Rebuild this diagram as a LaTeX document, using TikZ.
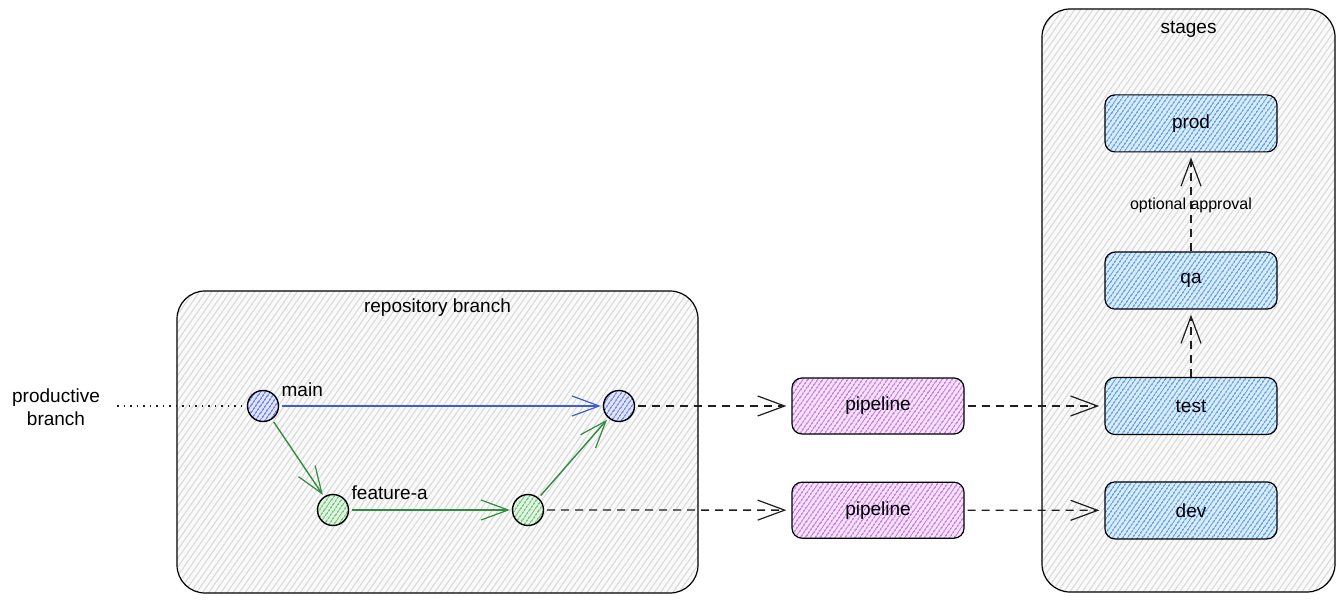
\documentclass[tikz,border=0pt]{standalone}
\usepackage{fontspec}
\setmainfont{Liberation Sans}
\usetikzlibrary{positioning,arrows.meta,patterns.meta}
\definecolor{rbgrouphatch}{RGB}{218,218,218}
\definecolor{rbstagehatch}{RGB}{96,166,234}
\definecolor{rbpipehatch}{RGB}{204,126,232}
\definecolor{rbmainhatch}{RGB}{118,138,236}
\definecolor{rbfeathatch}{RGB}{120,200,126}
\definecolor{rbmainline}{RGB}{62,92,212}
\definecolor{rbfeatline}{RGB}{48,140,62}
\definecolor{rbdash}{RGB}{30,30,30}
\tikzset{
  hatch/.style={preaction={fill=#1!22},
    pattern={Lines[angle=55,distance=4pt,line width=1.6pt]}, pattern color=#1},
  grp/.style={draw, line width=1.2pt, rounded corners=28pt,
    preaction={fill=black!2},
    pattern={Lines[angle=55,distance=5pt,line width=1.1pt]}, pattern color=rbgrouphatch},
  grouplabel/.style={font=\fontsize{19}{23}\selectfont},
  stagebox/.style={draw, line width=1.2pt, rounded corners=10pt, hatch=rbstagehatch,
    minimum width=172pt, minimum height=57pt, font=\fontsize{19}{23}\selectfont},
  pipebox/.style={stagebox, hatch=rbpipehatch, minimum height=56pt},
  commit/.style={circle, draw, line width=1.4pt, minimum size=31pt, inner sep=0pt},
  commitmain/.style={commit, hatch=rbmainhatch},
  commitfeat/.style={commit, hatch=rbfeathatch},
  branchlabel/.style={font=\fontsize{19}{23}\selectfont, inner sep=1pt},
  tip/.style={-{Straight Barb[length=27pt,width=20pt,line width=1.2pt]}},
  mainar/.style={tip, draw=rbmainline, line width=1.4pt, shorten <=3pt, shorten >=2pt},
  featar/.style={tip, draw=rbfeatline, line width=1.4pt, shorten <=3pt, shorten >=2pt},
  dashar/.style={tip, draw=rbdash, line width=1.3pt, dash pattern=on 8pt off 6pt,
    shorten <=3pt, shorten >=5pt},
  dotline/.style={draw=rbdash, line width=1.3pt, dash pattern=on 1.5pt off 5pt},
  el/.style={font=\fontsize{16}{19}\selectfont, inner sep=1pt},
}

\begin{document}
\begin{tikzpicture}[x=1pt,y=1pt]
  \useasboundingbox (0,0) rectangle (1343,603);

  % ===== group boxes =====
  \node[grp, minimum width=521pt, minimum height=302pt] (repo) at (437.5,161) {};
  \node[grouplabel, anchor=north] at ([yshift=-5pt]repo.north) {repository branch};
  \node[grp, minimum width=293pt, minimum height=583pt] (stages) at (1188.5,302.5) {};
  \node[grouplabel, anchor=north] at ([yshift=-9pt]stages.north) {stages};

  % ===== stages column =====
  \node[stagebox] (test) at (1191,197) {test};
  \node[stagebox, below=46pt of test] (dev) {dev};
  \node[stagebox, above=67pt of test] (qa) {qa};
  \node[stagebox, above=99pt of qa] (prod) {prod};

  % ===== pipelines =====
  \node[pipebox] (pipeA) at (878,197) {pipeline};
  \node[pipebox, below=47pt of pipeA] (pipeB) {pipeline};

  % ===== commits =====
  \node[commitmain] (mainA) at (263,197) {};
  \node[commitmain] (mainB) at (619,197) {};
  \node[commitfeat] (featA) at (333,93) {};
  \node[commitfeat] (featB) at (528,93) {};
  \node[branchlabel, anchor=south west] at ([xshift=6pt,yshift=-3pt]mainA.north east) {main};
  \node[branchlabel, anchor=south west] at ([xshift=6pt,yshift=-2pt]featA.north east) {feature-a};

  \node[grouplabel, align=center] (prodbr) at (56,196) {productive\\branch};
  \coordinate (pbstart) at (117,197);

  % ===== edges =====
  \draw[dotline] (pbstart) -- (mainA);
  \draw[mainar] (mainA) -- (mainB);
  \draw[featar] (mainA) -- (featA);
  \draw[featar] (featA) -- (featB);
  \draw[featar] (featB) -- (mainB);

  \draw[dashar] (mainB) -- (pipeA);
  \draw[dashar] (featB) -- (pipeB);
  \draw[dashar] (pipeA) -- (test);
  \draw[dashar] (pipeB) -- (dev);
  \draw[dashar, shorten <=0pt] (test) -- (qa);
  \draw[dashar, shorten <=0pt] (qa) -- node[el, yshift=-3pt] {optional approval} (prod);

\end{tikzpicture}
\end{document}
